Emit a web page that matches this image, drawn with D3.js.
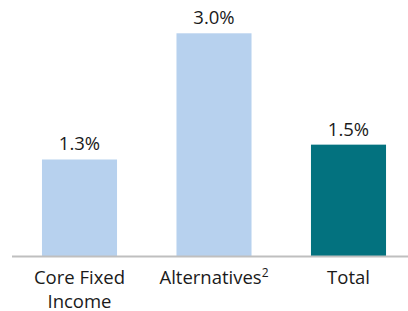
<!DOCTYPE html>
<html><head><meta charset="utf-8">
<script src="https://cdn.jsdelivr.net/npm/d3@7"></script>
<style>html,body{margin:0;padding:0;background:#fff;}svg{display:block;}</style>
</head><body>
<svg id="c" width="408" height="311"></svg>
<script>
const categories = ["Core Fixed Income", "Alternatives", "Total"];
const labelLines = [["Core Fixed", "Income"], ["Alternatives"], ["Total"]];
const superscripts = ["", "2", ""];
const values = [1.3, 3.0, 1.5];
const valueLabels = ["1.3%", "3.0%", "1.5%"];
const colors = ["#b7d1ee", "#b7d1ee", "#03727f"];

const svg = d3.select("#c");
const font = "'Open Sans', sans-serif";
const x = d3.scaleBand().domain(categories).range([12.25, 415.75]).paddingInner(0.442).paddingOuter(0.221);
const y = d3.scaleLinear().domain([0, 3.0]).range([256, 33.3]);

svg.selectAll("rect.bar").data(categories).join("rect")
  .attr("class", "bar")
  .attr("x", d => x(d)).attr("width", x.bandwidth())
  .attr("y", (d, i) => y(values[i])).attr("height", (d, i) => y(0) - y(values[i]))
  .attr("fill", (d, i) => colors[i]);

svg.append("line").attr("x1", 12).attr("x2", 408).attr("y1", y(0) + 0.5).attr("y2", y(0) + 0.5)
  .attr("stroke", "#bfbfbf").attr("stroke-width", 2);

svg.selectAll("text.val").data(categories).join("text")
  .attr("class", "val")
  .attr("x", d => x(d) + x.bandwidth() / 2)
  .attr("y", (d, i) => y(values[i]) - 9)
  .attr("text-anchor", "middle")
  .attr("font-family", font).attr("font-size", 18.5).attr("fill", "#1a1a1a")
  .text((d, i) => valueLabels[i]);

categories.forEach((c, i) => {
  const t = svg.append("text")
    .attr("x", x(c) + x.bandwidth() / 2)
    .attr("y", 284)
    .attr("text-anchor", "middle")
    .attr("font-family", font).attr("font-size", 18.5).attr("fill", "#1a1a1a");
  labelLines[i].forEach((ln, j) => {
    t.append("tspan").attr("x", x(c) + x.bandwidth() / 2).attr("dy", j === 0 ? 0 : 24).text(ln);
  });
  if (superscripts[i]) {
    t.append("tspan").attr("font-size", 12).attr("dy", -7).text(superscripts[i]);
  }
});
</script>
</body></html>
